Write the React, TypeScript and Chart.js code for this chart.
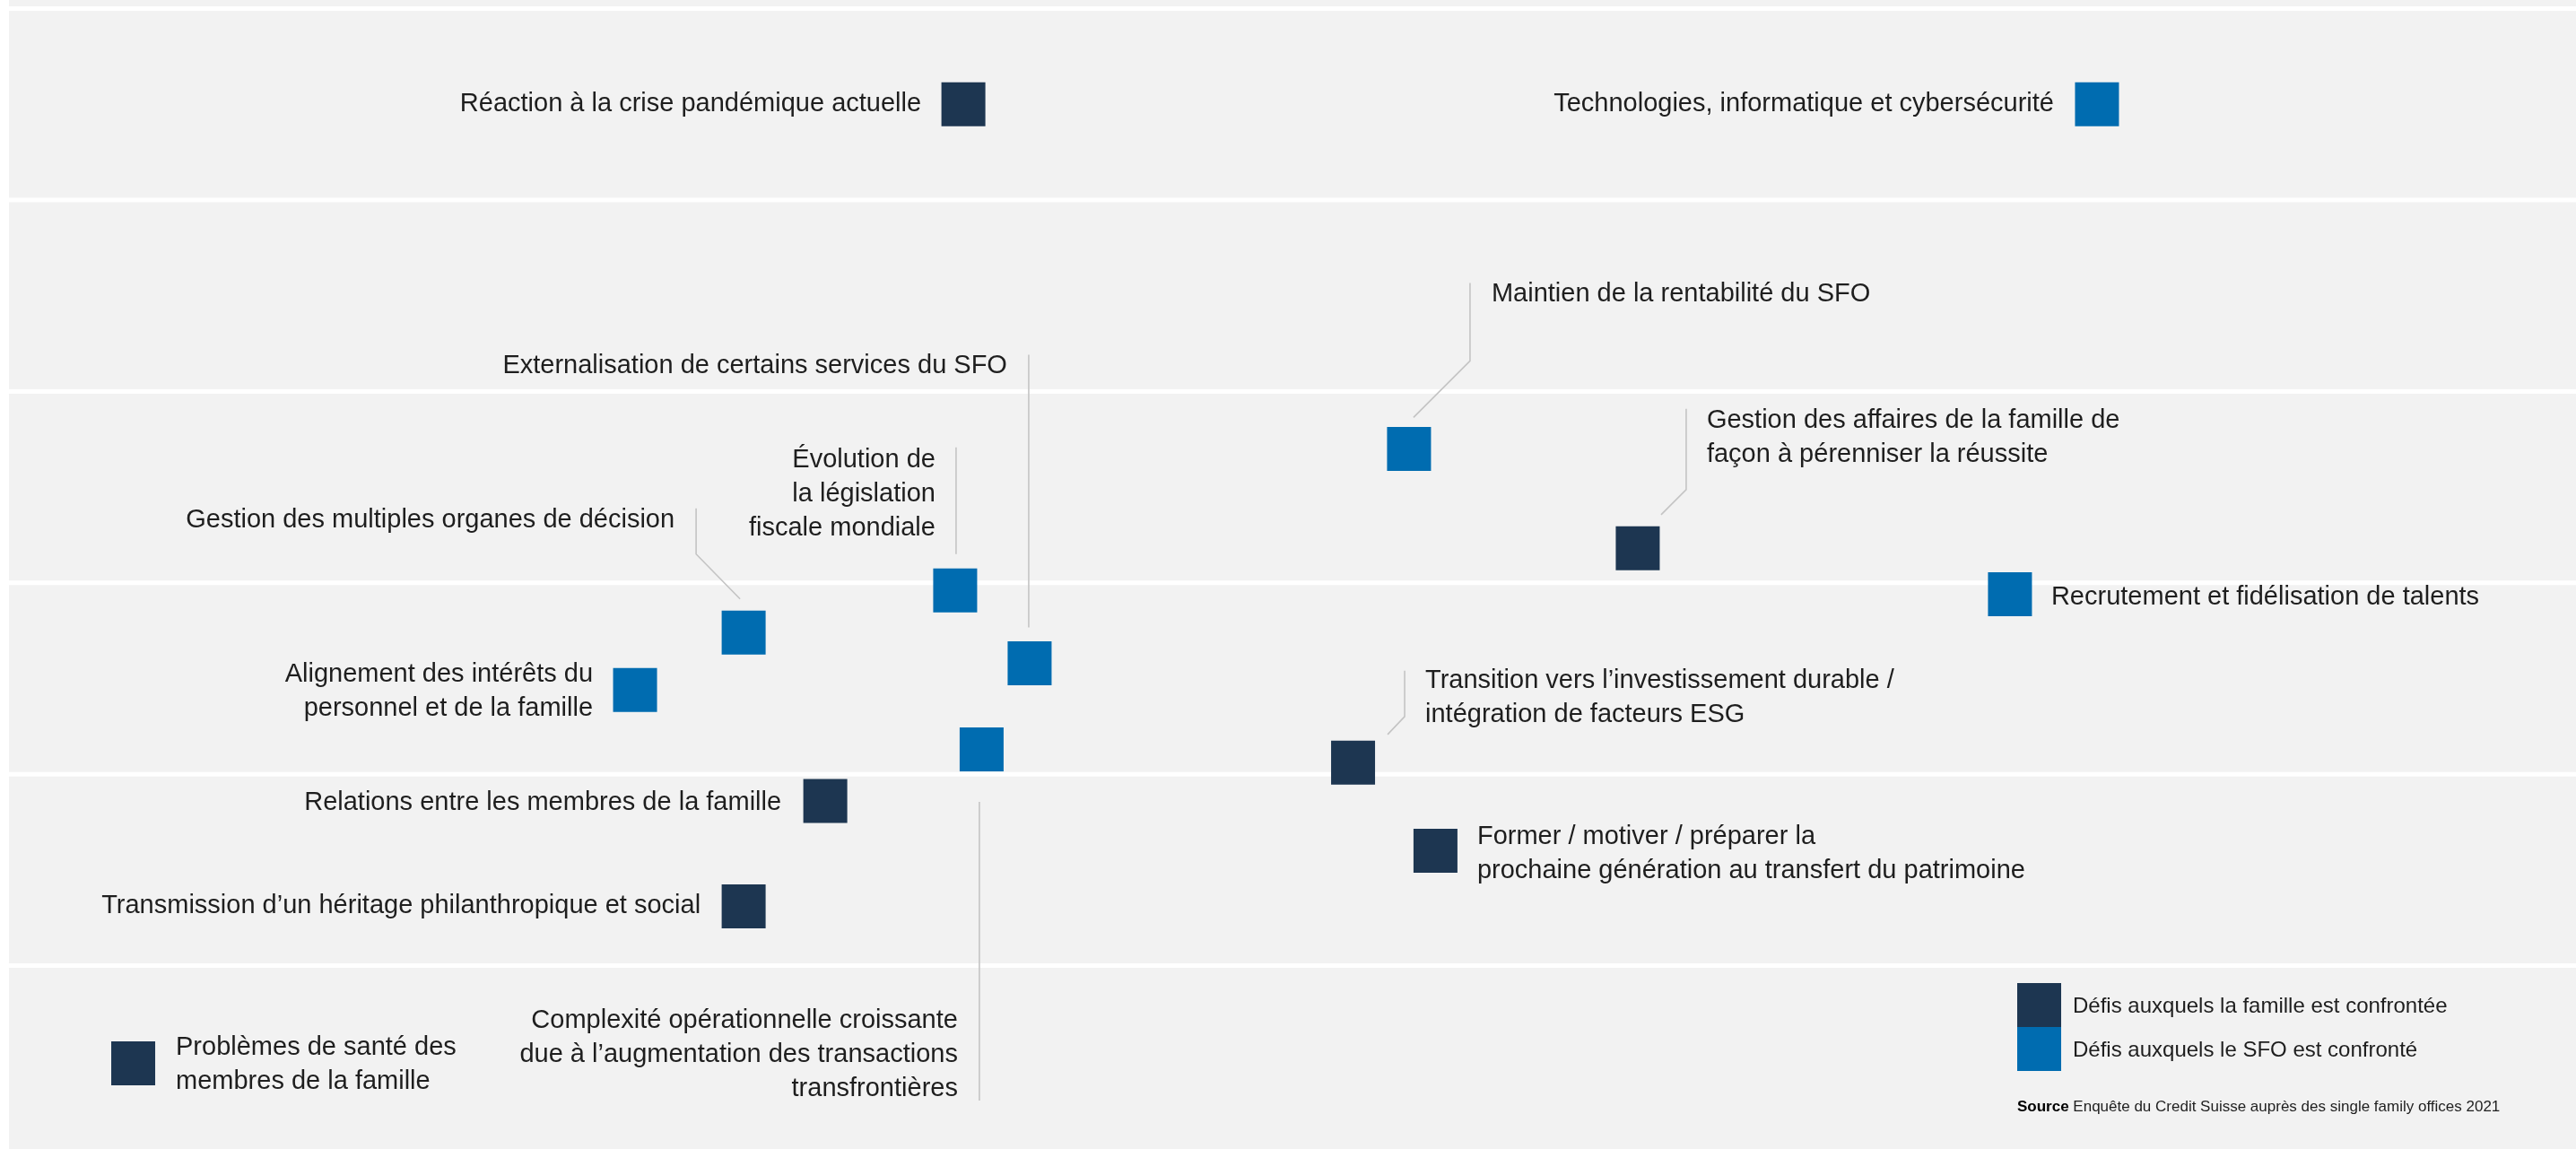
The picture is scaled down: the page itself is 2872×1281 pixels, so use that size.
import React, { useEffect, useRef } from "react";
import { Chart, registerables } from "chart.js";

Chart.register(...registerables);

// ---------- DATA ----------
const challenges = [
  "Réaction à la crise pandémique actuelle",
  "Technologies, informatique et cybersécurité",
  "Maintien de la rentabilité du SFO",
  "Externalisation de certains services du SFO",
  "Évolution de la législation fiscale mondiale",
  "Gestion des multiples organes de décision",
  "Alignement des intérêts du personnel et de la famille",
  "Relations entre les membres de la famille",
  "Transmission d’un héritage philanthropique et social",
  "Problèmes de santé des membres de la famille",
  "Complexité opérationnelle croissante due à l’augmentation des transactions transfrontières",
  "Gestion des affaires de la famille de façon à pérenniser la réussite",
  "Recrutement et fidélisation de talents",
  "Transition vers l’investissement durable / intégration de facteurs ESG",
  "Former / motiver / préparer la prochaine génération au transfert du patrimoine",
];
const xValues = [37.18, 81.34, 54.54, 39.76, 36.86, 28.62, 24.39, 31.8, 28.62, 4.84, 37.89, 63.45, 77.95, 52.36, 55.57];
const yValues = [5.5, 5.5, 3.7, 2.58, 2.96, 2.74, 2.44, 1.86, 1.31, 0.49, 2.13, 3.18, 2.94, 2.06, 1.6];
// "F" = famille, "S" = SFO
const groups = ["F", "S", "S", "S", "S", "S", "S", "F", "F", "F", "S", "F", "S", "F", "F"];
const seriesKeys = ["F", "S"];
const seriesNames = ["Défis auxquels la famille est confrontée", "Défis auxquels le SFO est confronté"];
const bandLines = [1, 2, 3, 4, 5, 6];
const sourceBold = "Source";
const sourceText = "Enquête du Credit Suisse auprès des single family offices 2021";

// ---------- LABEL LAYOUT (offsets in px relative to marker centre) ----------
type Layout = {
  lines: string[];
  align: "left" | "right";
  dx: number;
  dy: number;
  leader?: number[][];
};
const labelLayout: Layout[] = [
  { lines: ["Réaction à la crise pandémique actuelle"], align: "right", dx: -47, dy: 0 },
  { lines: ["Technologies, informatique et cybersécurité"], align: "right", dx: -48, dy: 0 },
  { lines: ["Maintien de la rentabilité du SFO"], align: "left", dx: 92, dy: -172, leader: [[68, -185], [68, -98], [5, -35]] },
  { lines: ["Externalisation de certains services du SFO"], align: "right", dx: -25, dy: -331, leader: [[-1, -344], [-1, -40]] },
  { lines: ["Évolution de", "la législation", "fiscale mondiale"], align: "right", dx: -22, dy: -145.5, leader: [[1, -159.5], [1, -40.5]] },
  { lines: ["Gestion des multiples organes de décision"], align: "right", dx: -77, dy: -125.5, leader: [[-53, -138.5], [-53, -87.5], [-4, -37.5]] },
  { lines: ["Alignement des intérêts du", "personnel et de la famille"], align: "right", dx: -47, dy: -17.5 },
  { lines: ["Relations entre les membres de la famille"], align: "right", dx: -49, dy: 2 },
  { lines: ["Transmission d’un héritage philanthropique et social"], align: "right", dx: -48, dy: 0 },
  { lines: ["Problèmes de santé des", "membres de la famille"], align: "left", dx: 47.5, dy: -17.5 },
  { lines: ["Complexité opérationnelle croissante", "due à l’augmentation des transactions", "transfrontières"], align: "right", dx: -26.5, dy: 302.5, leader: [[-2.5, 58.5], [-2.5, 391.5]] },
  { lines: ["Gestion des affaires de la famille de", "façon à pérenniser la réussite"], align: "left", dx: 77, dy: -142.5, leader: [[54, -155.5], [54, -65.5], [26, -37.5]] },
  { lines: ["Recrutement et fidélisation de talents"], align: "left", dx: 46, dy: 3.5 },
  { lines: ["Transition vers l’investissement durable /", "intégration de facteurs ESG"], align: "left", dx: 80.5, dy: -91.5, leader: [[57.5, -102.5], [57.5, -51.5], [38.5, -31.5]] },
  { lines: ["Former / motiver / préparer la", "prochaine génération au transfert du patrimoine"], align: "left", dx: 46.5, dy: -15.5 },
];

// ---------- STYLE ----------
const COLORS: Record<string, string> = { F: "#1d3651", S: "#006cb0" };
const BG = "#f2f2f2";
const TEXT = "#1e1e1e";
const LEADER = "#c4c4c4";
const FONT = "'Liberation Sans', Arial, sans-serif";
const W = 2862;
const H = 1281;
const SQUARE = 49;

const bandsPlugin = {
  id: "bands",
  beforeDraw(chart: any) {
    const { ctx, width, height } = chart;
    const y = chart.scales.y;
    ctx.save();
    ctx.fillStyle = BG;
    ctx.fillRect(0, 0, width, height);
    ctx.fillStyle = "#ffffff";
    bandLines.forEach((v) => {
      const py = y.getPixelForValue(v);
      ctx.fillRect(0, py - 2.5, width, 5);
    });
    ctx.restore();
  },
};

const labelsPlugin = {
  id: "labels",
  afterDatasetsDraw(chart: any) {
    const { ctx } = chart;
    ctx.save();
    chart.data.datasets.forEach((ds: any, di: number) => {
      const meta = chart.getDatasetMeta(di);
      ds.data.forEach((pt: any, i: number) => {
        const el = meta.data[i];
        const lay = labelLayout[pt.idx];
        if (!el || !lay) return;
        const cx = el.x;
        const cy = el.y;
        if (lay.leader) {
          ctx.strokeStyle = LEADER;
          ctx.lineWidth = 1.6;
          ctx.beginPath();
          lay.leader.forEach((p, k) => {
            if (k === 0) ctx.moveTo(cx + p[0], cy + p[1]);
            else ctx.lineTo(cx + p[0], cy + p[1]);
          });
          ctx.stroke();
        }
        ctx.fillStyle = TEXT;
        ctx.font = `29px ${FONT}`;
        ctx.textAlign = lay.align;
        ctx.textBaseline = "middle";
        lay.lines.forEach((line, k) => {
          ctx.fillText(line, cx + lay.dx, cy + lay.dy + k * 38);
        });
      });
    });

    // legend
    const lx = chart.width - 623;
    const ly = 1096;
    seriesKeys.forEach((key, k) => {
      ctx.fillStyle = COLORS[key];
      ctx.fillRect(lx, ly + k * SQUARE, SQUARE, SQUARE);
      ctx.fillStyle = TEXT;
      ctx.font = `24px ${FONT}`;
      ctx.textAlign = "left";
      ctx.textBaseline = "middle";
      ctx.fillText(seriesNames[k], lx + 62, ly + 26 + k * SQUARE);
    });
    // source
    ctx.textBaseline = "middle";
    ctx.font = `bold 17px ${FONT}`;
    ctx.fillStyle = "#000";
    ctx.fillText(sourceBold, lx, 1234);
    const bw = ctx.measureText(sourceBold + " ").width;
    ctx.font = `17px ${FONT}`;
    ctx.fillStyle = TEXT;
    ctx.fillText(sourceText, lx + bw, 1234);
    ctx.restore();
  },
};

export default function App() {
  const ref = useRef<HTMLCanvasElement | null>(null);
  useEffect(() => {
    if (!ref.current) return;
    const datasets = seriesKeys.map((key, k) => ({
      label: seriesNames[k],
      data: challenges
        .map((c, i) => ({ x: xValues[i], y: yValues[i], label: c, idx: i, g: groups[i] }))
        .filter((p) => p.g === key),
      backgroundColor: COLORS[key],
      borderColor: COLORS[key],
      borderWidth: 0,
      pointStyle: "rect",
      pointRadius: SQUARE / 2 / Math.SQRT1_2,
      pointHoverRadius: SQUARE / 2 / Math.SQRT1_2,
      clip: false,
    }));
    const chart = new Chart(ref.current, {
      type: "scatter",
      data: { datasets } as any,
      options: {
        animation: false,
        responsive: false,
        devicePixelRatio: 1,
        layout: { padding: 0, autoPadding: false },
        events: [],
        scales: {
          x: { type: "linear", min: 0, max: 100, display: false },
          y: { type: "linear", min: 0.042, max: 6.045, display: false },
        },
        plugins: {
          legend: { display: false },
          tooltip: { enabled: false },
        },
      } as any,
      plugins: [bandsPlugin, labelsPlugin],
    });
    return () => chart.destroy();
  }, []);
  return (
    <div style={{ position: "fixed", left: 10, top: 0, width: W, height: H }}>
      <canvas ref={ref} width={W} height={H} style={{ width: W, height: H, display: "block" }} />
    </div>
  );
}
